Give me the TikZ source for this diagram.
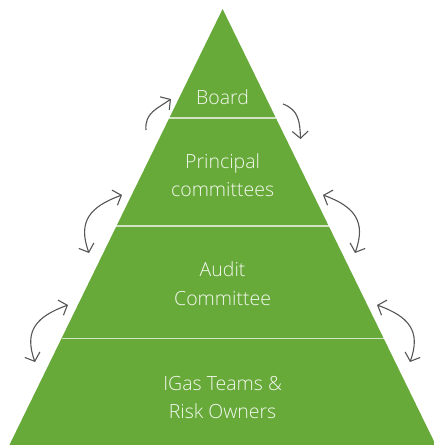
\documentclass[tikz,border=0pt]{standalone}
\usepackage{fontspec}
\setmainfont{Open Sans}[UprightFont=* Light]
\usetikzlibrary{arrows.meta,calc}
\definecolor{leaf}{RGB}{104,170,58}
\definecolor{arrowgray}{RGB}{85,85,85}
\tikzset{
  tier/.style={align=center,text=white!92!leaf,font=\fontsize{19.5}{28.5}\selectfont},
  flow/.style={draw,arrowgray,line width=1.1pt},
  barb/.tip={Straight Barb[length=7pt,width=16pt]},
}
\begin{document}
\begin{tikzpicture}[x=1pt,y=1pt]
\useasboundingbox (0,0) rectangle (434,445);
\coordinate (top) at (222.6,436);
\coordinate (bl) at (9.4,0);
\coordinate (br) at (435.8,0);
\fill[leaf] (top) -- (bl) -- (br) -- cycle;
% tier borders
\foreach \f/\n in {0.25/1,0.498/2,0.755/3} {
  \coordinate (l\n) at ($(top)!\f!(bl)$);
  \coordinate (r\n) at ($(top)!\f!(br)$);
  \path[draw,white,opacity=0.7,line width=1.3pt] (l\n) -- (r\n);
}
\node[tier] (board) at (222.6,348) {Board};
\node[tier] (principal) at (222.6,270) {Principal\\committees};
\node[tier] (audit) at (222.6,161.5) {Audit\\Committee};
\node[tier] (teams) at (222.6,47.5) {IGas Teams \&\\Risk Owners};
% arrows between the tiers
\coordinate (a1) at (146,315);
\coordinate (b1) at (171,346);
\coordinate (a2) at (283,341);
\coordinate (b2) at (300.5,306);
\coordinate (a3) at (89,192);
\coordinate (b3) at (122,250);
\coordinate (a4) at (355,192);
\coordinate (b4) at (323,250);
\coordinate (a5) at (35,83);
\coordinate (b5) at (68,140);
\coordinate (a6) at (410,83);
\coordinate (b6) at (377,140);
\path[flow,-barb] (a1) to[out=95,in=215,looseness=1.1] (b1);
\path[flow,-barb] (a2) to[out=-20,in=92,looseness=1.1] (b2);
\path[flow,barb-barb] (a3) to[out=110,in=200,looseness=1.3] (b3);
\path[flow,barb-barb] (a4) to[out=70,in=-20,looseness=1.3] (b4);
\path[flow,barb-barb] (a5) to[out=110,in=200,looseness=1.3] (b5);
\path[flow,barb-barb] (a6) to[out=70,in=-20,looseness=1.3] (b6);
\end{tikzpicture}
\end{document}
